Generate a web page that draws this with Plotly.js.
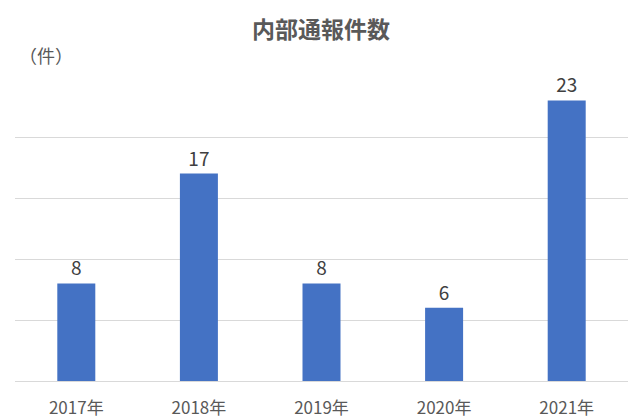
<!DOCTYPE html>
<html>
<head>
<meta charset="utf-8">
<script src="https://cdn.plot.ly/plotly-3.0.1.min.js"></script>
<style>html,body{margin:0;padding:0;background:#fff;}#chart{width:642px;height:419px;}</style>
</head>
<body>
<div id="chart"></div>
<script>
const categories = ["2017年", "2018年", "2019年", "2020年", "2021年"];
const values = [8, 17, 8, 6, 23];
const chartTitle = "内部通報件数";
const unitLabel = "（件）";

const font = "Noto Sans CJK JP, sans-serif";
Plotly.newPlot("chart", [{
  type: "bar",
  x: categories,
  y: values,
  marker: {color: "#4472C4"},
  text: values.map(String),
  textposition: "outside",
  cliponaxis: false,
  textfont: {family: font, size: 19, color: "#404040"},
  hoverinfo: "none"
}], {
  width: 642, height: 419,
  margin: {l: 15, r: 14, t: 76, b: 38},
  paper_bgcolor: "#fff", plot_bgcolor: "#fff",
  bargap: 0.69,
  font: {family: font, color: "#595959"},
  title: {text: "<b>" + chartTitle + "</b>", x: 0.5, xanchor: "center", y: 0.928, yanchor: "middle", yref: "container",
          font: {family: font, size: 23, color: "#595959"}},
  xaxis: {type: "category", showgrid: false, showline: false, ticks: "",
          tickfont: {family: font, size: 17, color: "#595959"}, ticklabelstandoff: 15},
  yaxis: {range: [0, 25], dtick: 5, showticklabels: false, showgrid: true, gridcolor: "#D9D9D9",
          gridwidth: 1, zeroline: true, zerolinecolor: "#D9D9D9", zerolinewidth: 1, showline: false, fixedrange: true},
  annotations: [{text: unitLabel, xref: "paper", yref: "paper", x: 0.003, y: 1.07, xanchor: "left", yanchor: "middle",
                 showarrow: false, font: {family: font, size: 18, color: "#595959"}}],
  showlegend: false
}, {displayModeBar: false, staticPlot: true});
</script>
</body>
</html>
